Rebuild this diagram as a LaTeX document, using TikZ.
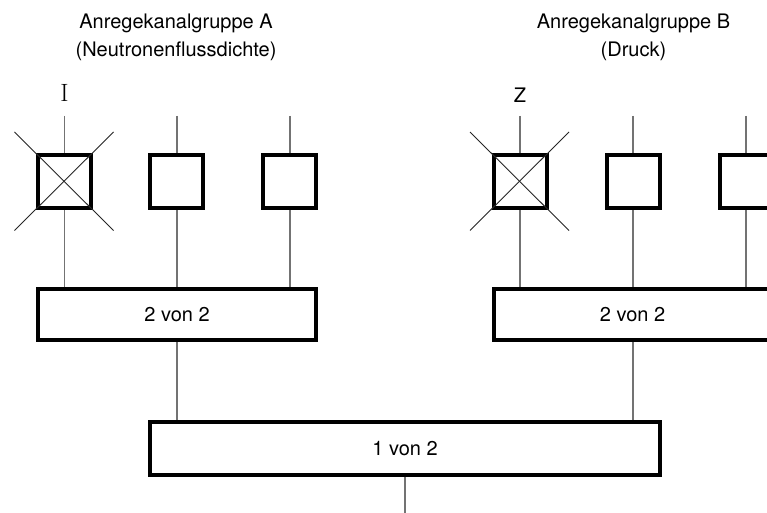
\documentclass[tikz,border=0pt]{standalone}
\usepackage{fontspec}
\setmainfont{TeX Gyre Heros}
\newfontfamily\romanI{Latin Modern Roman}
\usetikzlibrary{calc}
\begin{document}
\begin{tikzpicture}[x=1pt,y=-1pt,
  chan/.style={draw=black,line width=4pt,fill=white,minimum width=53pt,minimum height=53pt,inner sep=0pt,outer sep=0pt},
  logic/.style={draw=black,line width=4pt,fill=white,minimum height=51pt,inner sep=0pt,outer sep=0pt,font=\fontsize{20}{24}\selectfont},
  wire/.style={draw=black!55,line width=1.2pt},
  xline/.style={draw=black!85,line width=0.9pt},
  title/.style={inner sep=0pt,anchor=base,font=\fontsize{20}{24}\selectfont},
  tag/.style={inner sep=0pt,anchor=base}]
\useasboundingbox (0,0) rectangle (767,513);
\clip (0,0) rectangle (767,513);
\fill[white] (0,0) rectangle (767,513);

% titles
\node[title] (ta1) at (176,29) {Anregekanalgruppe A};
\node[title] (ta2) at (176,57) {(Neutronenflussdichte)};
\node[title] (tb1) at (633.5,29) {Anregekanalgruppe B};
\node[title] (tb2) at (633.5,57) {(Druck)};

% channel tags
\node[tag,font=\romanI\fontsize{25}{28}\selectfont] (li) at (64.5,102) {I};
\node[tag,font=\fontsize{20}{24}\selectfont] (lz) at (520,103) {Z};

% logic boxes
\node[logic,minimum width=278pt] (ga) at (177,314.5) {2 von 2};
\node[logic,minimum width=278pt] (gb) at (632.5,314.5) {2 von 2};
\node[logic,minimum width=510pt,minimum height=53pt] (gc) at (405,448.5) {1 von 2};

% wire tops
\foreach \n/\x in {a1/64.5,a2/177,a3/290,b1/520,b2/633,b3/746}{
  \coordinate (t\n) at (\x,116);
}
\coordinate (out) at (405,513);

% wires (drawn first, boxes on top)
\foreach \n in {a1,a2,a3,b1,b2,b3}{
  \path[wire] (t\n) -- (t\n |- 0,300);
}
\path[wire] (ga.south) -- (ga.south |- gc.north);
\path[wire] (gb.south -| 633,0) -- (633,422);
\path[wire] (gc.south) -- (out);

% channel squares
\node[chan] (a1) at (64.5,181.5) {};
\node[chan] (a2) at (176.5,181.5) {};
\node[chan] (a3) at (289.5,181.5) {};
\node[chan] (b1) at (520,181.5) {};
\node[chan] (b2) at (633,181.5) {};
\node[chan] (b3) at (746,181.5) {};

% crossed-out channels
\foreach \n in {a1,b1}{
  \draw[xline] ([shift={(-50,-49.5)}]\n.center) -- ([shift={(49,49)}]\n.center);
  \draw[xline] ([shift={(49,-49.5)}]\n.center) -- ([shift={(-50,49)}]\n.center);
}

% redraw logic boxes on top of wires
\node[logic,minimum width=278pt] at (ga) {2 von 2};
\node[logic,minimum width=278pt] at (gb) {2 von 2};
\node[logic,minimum width=510pt,minimum height=53pt] at (gc) {1 von 2};
\end{tikzpicture}
\end{document}
